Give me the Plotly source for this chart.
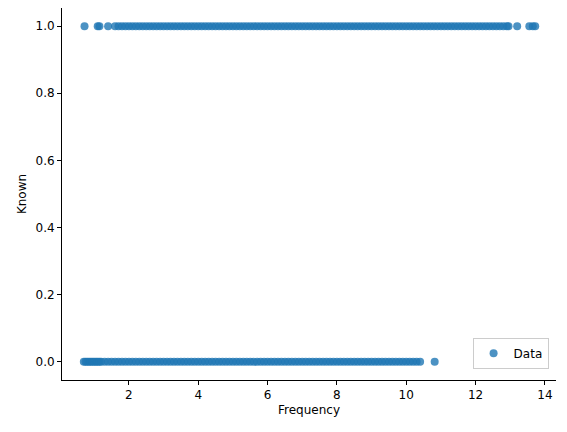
import plotly.graph_objects as go

known1_freq = [0.72, 1.1, 1.15, 1.4, 1.6, 1.7, 1.8, 1.9, 2.0, 2.1, 2.2, 2.3, 2.4, 2.5, 2.6, 2.7, 2.8, 2.9,
               3.0, 3.1, 3.2, 3.3, 3.4, 3.5, 3.6, 3.7, 3.8, 3.9, 4.0, 4.1, 4.2, 4.3, 4.4, 4.5, 4.6, 4.7,
               4.8, 4.9, 5.0, 5.1, 5.2, 5.3, 5.4, 5.5, 5.6, 5.7, 5.8, 5.9, 6.0, 6.1, 6.2, 6.3, 6.4, 6.5,
               6.6, 6.7, 6.8, 6.9, 7.0, 7.1, 7.2, 7.3, 7.4, 7.5, 7.6, 7.7, 7.8, 7.9, 8.0, 8.1, 8.2, 8.3,
               8.4, 8.5, 8.6, 8.7, 8.8, 8.9, 9.0, 9.1, 9.2, 9.3, 9.4, 9.5, 9.6, 9.7, 9.8, 9.9, 10.0,
               10.1, 10.2, 10.3, 10.4, 10.5, 10.6, 10.7, 10.8, 10.9, 11.0, 11.1, 11.2, 11.3, 11.4, 11.5,
               11.6, 11.7, 11.8, 11.9, 12.0, 12.1, 12.2, 12.3, 12.4, 12.5, 12.6, 12.7, 12.8, 12.9, 12.95,
               13.2, 13.55, 13.65, 13.72]
known0_freq = [0.7, 0.75, 0.8, 0.85, 0.9, 0.95, 1.0, 1.05, 1.1, 1.15, 1.2, 1.3, 1.4, 1.5, 1.6, 1.7, 1.8,
               1.9, 2.0, 2.1, 2.2, 2.3, 2.4, 2.5, 2.6, 2.7, 2.8, 2.9, 3.0, 3.1, 3.2, 3.3, 3.4, 3.5, 3.6,
               3.7, 3.8, 3.9, 4.0, 4.1, 4.2, 4.3, 4.4, 4.5, 4.6, 4.7, 4.8, 4.9, 5.0, 5.1, 5.2, 5.3, 5.4,
               5.5, 5.6, 5.7, 5.8, 5.9, 6.0, 6.1, 6.2, 6.3, 6.4, 6.5, 6.6, 6.7, 6.8, 6.9, 7.0, 7.1, 7.2,
               7.3, 7.4, 7.5, 7.6, 7.7, 7.8, 7.9, 8.0, 8.1, 8.2, 8.3, 8.4, 8.5, 8.6, 8.7, 8.8, 8.9, 9.0,
               9.1, 9.2, 9.3, 9.4, 9.5, 9.6, 9.7, 9.8, 9.9, 10.0, 10.1, 10.2, 10.3, 10.4, 10.82]

x = known1_freq + known0_freq
y = [1.0] * len(known1_freq) + [0.0] * len(known0_freq)

fig = go.Figure(go.Scatter(x=x, y=y, mode="markers", name="Data", showlegend=True,
                           marker=dict(size=8, color="rgba(31,119,180,0.8)", line=dict(width=0))))
axis = dict(showline=True, linecolor="black", linewidth=1, ticks="outside", ticklen=4,
            tickcolor="black", showgrid=False, zeroline=False, mirror=False, automargin=False,
            tickfont=dict(family="DejaVu Sans", size=12, color="black"))
fig.update_layout(
    width=567, height=432, margin=dict(l=54, r=19, t=0, b=60),
    plot_bgcolor="white", paper_bgcolor="white",
    xaxis=dict(axis, range=[0.07, 14.32], tickvals=[2, 4, 6, 8, 10, 12, 14],
               title=dict(text="Frequency", font=dict(family="DejaVu Sans", size=12, color="black"), standoff=4)),
    yaxis=dict(axis, range=[-0.054, 1.054], tickvals=[0, 0.2, 0.4, 0.6, 0.8, 1.0],
               tickformat=".1f",
               title=dict(text="Known", font=dict(family="DejaVu Sans", size=12, color="black"), standoff=6)),
    legend=dict(x=0.985, y=0.03, xanchor="right", yanchor="bottom", bordercolor="#cccccc", borderwidth=1,
                font=dict(family="DejaVu Sans", size=12, color="black"), bgcolor="white"),
)
fig.write_html("out.html")
